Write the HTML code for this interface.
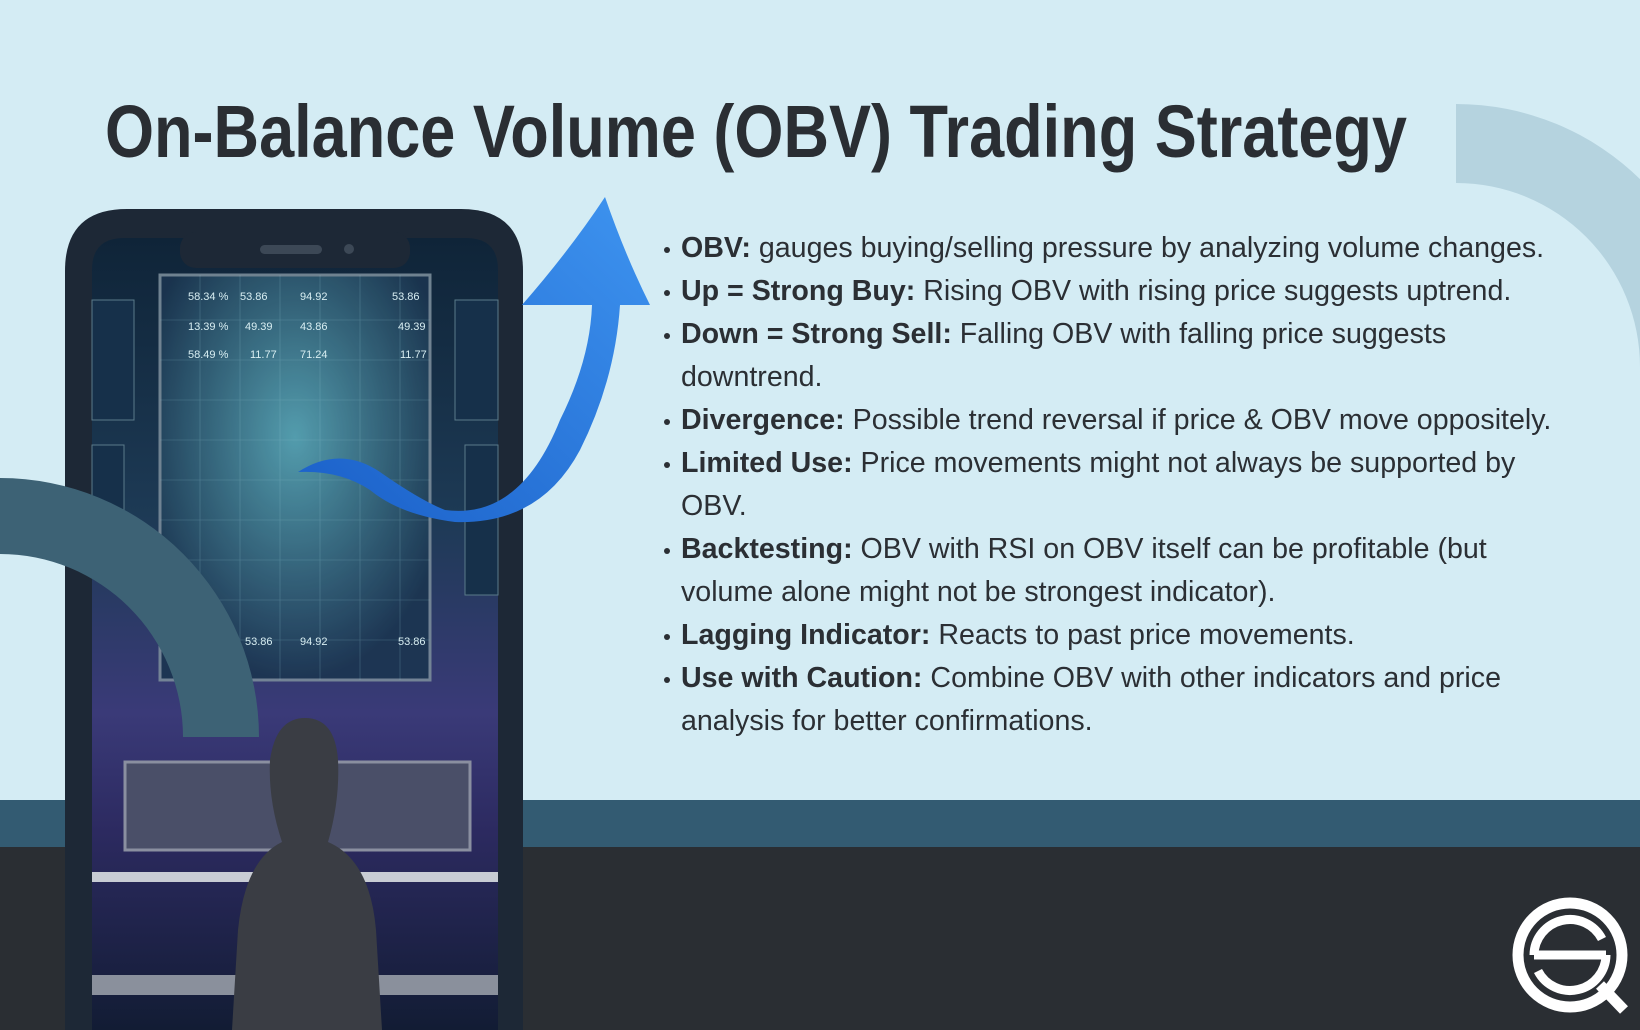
<!DOCTYPE html>
<html><head><meta charset="utf-8"><style>
html,body{margin:0;padding:0}
body{width:1640px;height:1030px;overflow:hidden;position:relative;background:#d4ecf4;font-family:"Liberation Sans",sans-serif}
.abs{position:absolute}
ul{position:absolute;left:664px;top:227px;margin:0;padding:0;list-style:none;width:960px}
li{position:relative;padding-left:17px;font-size:28.6px;line-height:43px;color:#2b2f34;white-space:nowrap}
li::before{content:"";position:absolute;left:0;top:20px;width:6px;height:6px;border-radius:50%;background:#2b2f34}
b{font-weight:bold}
</style></head><body>
<div class="abs" style="left:0;top:800px;width:1640px;height:47px;background:#335b72"></div>
<div class="abs" style="left:0;top:847px;width:1640px;height:183px;background:#2a2e33"></div>
<svg class="abs" style="left:0;top:0;overflow:hidden" width="1640" height="1030" viewBox="0 0 1640 1030">
 <defs>
  <linearGradient id="scr" x1="0" y1="0" x2="0" y2="1">
   <stop offset="0" stop-color="#0f2438"/><stop offset="0.35" stop-color="#1d3a55"/><stop offset="0.6" stop-color="#3a3a78"/><stop offset="0.75" stop-color="#2c2a60"/><stop offset="1" stop-color="#121c34"/>
  </linearGradient>
  <radialGradient id="glow" cx="0.5" cy="0.4" r="0.6"><stop offset="0" stop-color="#5aa8b8"/><stop offset="1" stop-color="#1b3550"/></radialGradient>
  <linearGradient id="arr" x1="0" y1="1" x2="1" y2="0"><stop offset="0" stop-color="#1a5fc8"/><stop offset="1" stop-color="#3e94f0"/></linearGradient>
  <clipPath id="frame"><rect x="0" y="0" width="1640" height="1030"/></clipPath>
 </defs>
 <g clip-path="url(#frame)">
 <path d="M1456 104 A263 263 0 0 1 1719 367 L1640 367 A184 184 0 0 0 1456 183 Z" fill="#b5d3df"/>
 <path d="M65 1030 L65 271 Q65 209 127 209 L461 209 Q523 209 523 271 L523 1030 Z" fill="#1d2836"/>
 <path d="M92 1030 L92 270 Q92 238 124 238 L466 238 Q498 238 498 270 L498 1030 Z" fill="url(#scr)"/>
 <rect x="180" y="232" width="230" height="36" rx="16" fill="#1d2836"/>
 <rect x="260" y="245" width="62" height="9" rx="4.5" fill="#3c4856"/>
 <circle cx="349" cy="249" r="5" fill="#3c4856"/>
 <rect x="160" y="275" width="270" height="405" fill="url(#glow)" stroke="#7a8c9a" stroke-width="3" opacity="0.9"/>
 <g stroke="#8fc4d0" stroke-width="0.6" opacity="0.35">
  <line x1="160" y1="320" x2="430" y2="320"/><line x1="160" y1="360" x2="430" y2="360"/><line x1="160" y1="400" x2="430" y2="400"/><line x1="160" y1="440" x2="430" y2="440"/><line x1="160" y1="480" x2="430" y2="480"/><line x1="160" y1="520" x2="430" y2="520"/><line x1="160" y1="560" x2="430" y2="560"/><line x1="160" y1="600" x2="430" y2="600"/><line x1="160" y1="640" x2="430" y2="640"/>
  <line x1="200" y1="275" x2="200" y2="680"/><line x1="240" y1="275" x2="240" y2="680"/><line x1="280" y1="275" x2="280" y2="680"/><line x1="320" y1="275" x2="320" y2="680"/><line x1="360" y1="275" x2="360" y2="680"/><line x1="400" y1="275" x2="400" y2="680"/>
 </g>
 <g fill="#d8eef2" font-size="11" font-family="Liberation Sans">
  <text x="188" y="300">58.34 %</text><text x="240" y="300">53.86</text><text x="300" y="300">94.92</text><text x="392" y="300">53.86</text>
  <text x="188" y="330">13.39 %</text><text x="245" y="330">49.39</text><text x="300" y="330">43.86</text><text x="398" y="330">49.39</text>
  <text x="188" y="358">58.49 %</text><text x="250" y="358">11.77</text><text x="300" y="358">71.24</text><text x="400" y="358">11.77</text>
  <text x="245" y="645">53.86</text><text x="300" y="645">94.92</text><text x="398" y="645">53.86</text>
 </g>
 <rect x="92" y="300" width="42" height="120" fill="#16304a" stroke="#5a7a8a"/>
 <rect x="455" y="300" width="43" height="120" fill="#16304a" stroke="#5a7a8a"/>
 <rect x="92" y="445" width="32" height="90" fill="#16304a" stroke="#5a7a8a"/>
 <rect x="465" y="445" width="33" height="150" fill="#16304a" stroke="#5a7a8a"/>
 <rect x="125" y="762" width="345" height="88" fill="#4a4f68" stroke="#8a8fa0" stroke-width="3"/>
 <rect x="92" y="872" width="406" height="10" fill="#c8ccd4"/>
 <rect x="92" y="975" width="406" height="20" fill="#8a909c"/>
 <path d="M232 1030 L238 930 Q245 860 282 842 Q268 800 270 760 Q276 718 305 718 Q335 718 338 760 Q340 800 328 842 Q370 860 376 930 L382 1030 Z" fill="#3a3d44"/>
 <path d="M0 478 A259 259 0 0 1 259 737 L183 737 A183 183 0 0 0 0 554 Z" fill="#3d6275"/>
 <path d="M298 472 Q340 445 380 472 Q420 500 445 510 Q520 520 560 420 Q590 360 592 305 L522 305 Q570 250 605 197 Q625 255 650 305 L620 305 Q615 380 580 450 Q540 525 455 522 Q400 515 370 490 Q340 470 298 472 Z" fill="url(#arr)"/>
 <g fill="none" stroke="#fff">
  <circle cx="1570" cy="955" r="52" stroke-width="11"/>
  <path d="M1534 955 A36 36 0 0 1 1602 939 M1606 955 A36 36 0 0 1 1538 971" stroke-width="9"/>
  <line x1="1534" y1="955" x2="1606" y2="955" stroke-width="9"/>
  <line x1="1600" y1="985" x2="1624" y2="1010" stroke-width="11"/>
 </g>
 <text x="105" y="157" font-family="Liberation Sans" font-weight="bold" font-size="74" fill="#2a2e33" textLength="1302" lengthAdjust="spacingAndGlyphs">On-Balance Volume (OBV) Trading Strategy</text>
 </g>
</svg>
<ul>
 <li><b>OBV:</b> gauges buying/selling pressure by analyzing volume changes.</li>
 <li><b>Up = Strong Buy:</b> Rising OBV with rising price suggests uptrend.</li>
 <li><b>Down = Strong Sell:</b> Falling OBV with falling price suggests<br>downtrend.</li>
 <li><b>Divergence:</b> Possible trend reversal if price &amp; OBV move oppositely.</li>
 <li><b>Limited Use:</b> Price movements might not always be supported by<br>OBV.</li>
 <li><b>Backtesting:</b> OBV with RSI on OBV itself can be profitable (but<br>volume alone might not be strongest indicator).</li>
 <li><b>Lagging Indicator:</b> Reacts to past price movements.</li>
 <li><b>Use with Caution:</b> Combine OBV with other indicators and price<br>analysis for better confirmations.</li>
</ul>
</body></html>
